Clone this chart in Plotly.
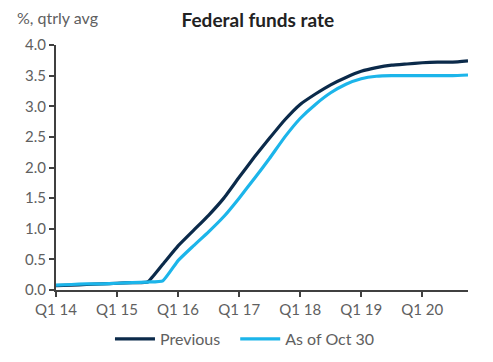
import plotly.graph_objects as go

quarters = [f"Q{q} {y}" for y in range(14, 21) for q in range(1, 5)]
tick_labels = ["Q1 14", "Q1 15", "Q1 16", "Q1 17", "Q1 18", "Q1 19", "Q1 20"]

previous = [0.07, 0.08, 0.09, 0.10, 0.11, 0.12, 0.13, 0.42,
            0.72, 0.97, 1.22, 1.50, 1.84, 2.17, 2.48, 2.78,
            3.03, 3.20, 3.35, 3.47, 3.57, 3.63, 3.67, 3.69,
            3.71, 3.72, 3.72, 3.74]
as_of_oct30 = [0.08, 0.09, 0.10, 0.10, 0.11, 0.12, 0.13, 0.15,
               0.48, 0.72, 0.95, 1.20, 1.50, 1.82, 2.15, 2.50,
               2.80, 3.03, 3.22, 3.36, 3.45, 3.49, 3.50, 3.50,
               3.50, 3.50, 3.50, 3.51]

series_names = ["Previous", "As of Oct 30"]
colors = ["#0b2a4a", "#1cb5ea"]
legend_ids = ["legend", "legend2"]

fig = go.Figure()
for name, vals, col, lg in zip(series_names, [previous, as_of_oct30], colors, legend_ids):
    fig.add_trace(go.Scatter(x=quarters, y=vals, mode="lines", name=name, legend=lg,
                             line=dict(color=col, width=3.2, shape="spline", smoothing=0.4)))

legend_style = dict(orientation="h", y=-0.2, yanchor="middle", xanchor="left",
                    font=dict(size=16, color="#606060"), itemwidth=40,
                    bgcolor="rgba(0,0,0,0)")

fig.update_layout(
    width=493, height=362,
    margin=dict(l=56, r=25, t=45, b=72, autoexpand=False),
    paper_bgcolor="white", plot_bgcolor="white",
    font=dict(family="Lato, Open Sans, sans-serif", size=15, color="#606060"),
    title=dict(text="Federal funds rate", x=0.523, xanchor="center", y=0.945, yanchor="middle",
               font=dict(size=19, color="#222222", family="Lato, sans-serif", weight="bold")),
    showlegend=True,
    legend=dict(x=0.131, **legend_style),
    legend2=dict(x=0.435, **legend_style),
)
fig.add_annotation(text="%, qtrly avg", xref="paper", yref="paper", x=-0.1, y=1.111,
                   xanchor="left", yanchor="middle", showarrow=False,
                   font=dict(size=16, color="#606060"))

fig.update_xaxes(type="category", categoryorder="array", categoryarray=quarters,
                 range=[0, 27], tickmode="array", tickvals=[q for q in quarters if q.startswith("Q1")],
                 ticktext=tick_labels, showgrid=False, showline=True, linecolor="#404040", linewidth=2,
                 ticks="outside", ticklen=5, tickcolor="#404040", tickwidth=2, zeroline=False)
fig.update_yaxes(range=[0, 4], tickvals=[0, 0.5, 1, 1.5, 2, 2.5, 3, 3.5, 4], tickformat=".1f",
                 showgrid=False, showline=True, linecolor="#404040", linewidth=2,
                 ticks="outside", ticklen=5, tickcolor="#404040", tickwidth=2, zeroline=False)

fig.write_html("out.html", config={"displayModeBar": False},
               post_script="document.body.style.margin='0';document.body.style.overflow='hidden';")
